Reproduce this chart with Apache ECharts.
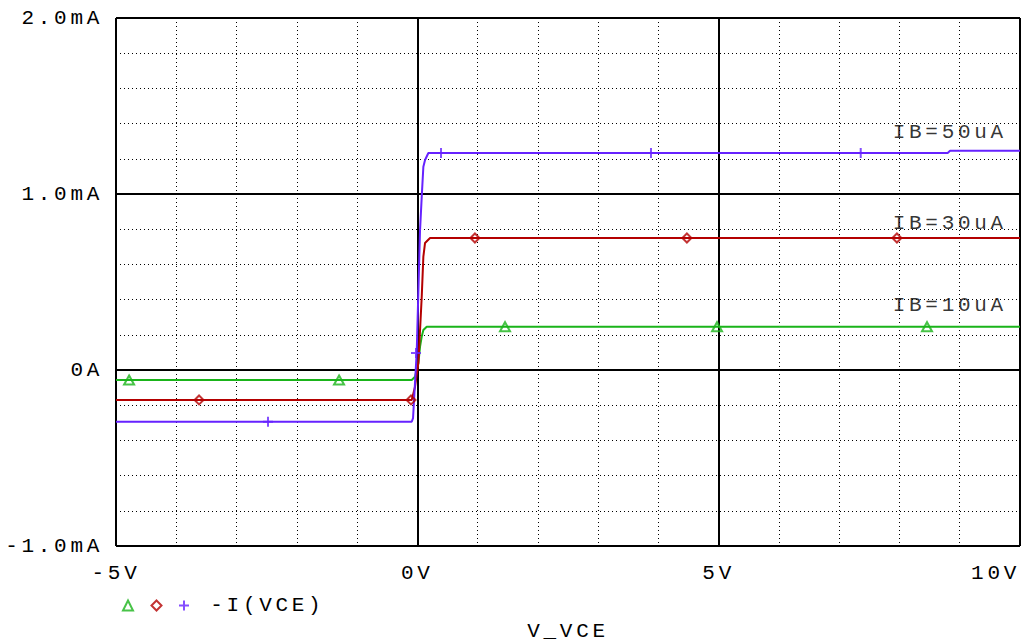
<!DOCTYPE html>
<html><head><meta charset="utf-8">
<script src="https://cdn.jsdelivr.net/npm/echarts@6/dist/echarts.min.js"></script>
<style>
html,body{margin:0;padding:0;background:#fff;}
#chart{width:1021px;height:644px;}
#chart text{letter-spacing:3.7px;}
</style></head><body><div id="chart"></div>
<script>
// Axis ticks and labels
const xTicks = [-5, 0, 5, 10];
const xTickLabels = ['-5V', '0V', '5V', '10V'];
const yTicks = [-1, 0, 1, 2];
const yTickLabels = ['-1.0mA', '0A', '1.0mA', '2.0mA'];
const xTitle = 'V_VCE';
const legendText = '-I(VCE)';

// Curves: V_VCE (V) vs -I(VCE) (mA)
const names = ['IB=10uA', 'IB=30uA', 'IB=50uA'];
const v10 = [-5, -0.093, -0.038, 0.017, 0.045, 0.073, 0.100, 0.156, 10];
const i10 = [-0.057, -0.057, -0.038, 0.038, 0.133, 0.190, 0.227, 0.246, 0.246];
const v30 = [-5, -0.093, -0.038, 0.017, 0.073, 0.100, 0.128, 0.211, 10];
const i30 = [-0.170, -0.170, -0.095, 0.040, 0.416, 0.644, 0.722, 0.750, 0.750];
const v50 = [-5, -0.093, -0.071, -0.010, 0.045, 0.073, 0.100, 0.128, 0.183, 8.80, 8.84, 10];
const i50 = [-0.294, -0.294, -0.273, 0.104, 0.795, 0.985, 1.155, 1.193, 1.233, 1.233, 1.246, 1.246];

// Marker positions
const mv10 = [-4.783, -1.299, 1.455, 4.973, 8.457];
const mi10 = [-0.057, -0.057, 0.246, 0.246, 0.246];
const mv30 = [-3.622, -0.105, 0.956, 4.473, 7.958];
const mi30 = [-0.170, -0.170, 0.750, 0.750, 0.750];
const mv50 = [-2.478, -0.022, 0.393, 3.877, 7.357];
const mi50 = [-0.294, 0.097, 1.233, 1.233, 1.233];

// Curve annotations
const annV = [7.88, 7.88, 7.88];
const annI = [0.364, 0.830, 1.347];
const annText = ['IB=10uA', 'IB=30uA', 'IB=50uA'];

const colors = ['#1ab41a', '#b40000', '#6622ff'];
const FONT = 'Liberation Mono';
const plusPath = 'path://M4,0H6V4H10V6H6V10H4V6H0V4H4Z';

const zip = (a, b) => a.map((v, i) => [v, b[i]]);

const chart = echarts.init(document.getElementById('chart'), null, {renderer: 'svg'});
const hollow = c => ({color: 'rgba(0,0,0,0)', borderColor: c, borderWidth: 2});

chart.setOption({
  animation: false,
  backgroundColor: '#fff',
  textStyle: {fontFamily: FONT, fontSize: 21, color: '#000'},
  grid: {left: 116, top: 18, width: 904, height: 528, containLabel: false, outerBoundsMode: 'none'},
  legend: {
    left: 122, top: 595, padding: 0, itemWidth: 10, itemHeight: 10, itemGap: 16.5,
    selectedMode: false,
    textStyle: {fontFamily: FONT, fontSize: 21, color: '#000'},
    formatter: n => n === names[2] ? '\u00a0' + legendText : '',
    data: [
      {name: names[0], icon: 'triangle', itemStyle: hollow(colors[0])},
      {name: names[1], icon: 'diamond', itemStyle: hollow(colors[1])},
      {name: names[2], icon: plusPath, itemStyle: {color: colors[2], borderWidth: 0}}
    ]
  },
  xAxis: {
    type: 'value', min: -5, max: 10, interval: 5,
    name: xTitle, nameLocation: 'middle', nameGap: 75,
    nameTextStyle: {fontFamily: FONT, fontSize: 21, color: '#000'},
    axisLine: {lineStyle: {color: '#000', width: 2}},
    axisTick: {length: 9, lineStyle: {color: '#000', width: 2}},
    axisLabel: {margin: 17, color: '#000', fontFamily: FONT, fontSize: 21,
      alignMaxLabel: 'right',
      formatter: v => { const k = xTicks.indexOf(v); return k >= 0 ? xTickLabels[k] : ''; }},
    splitLine: {show: true, lineStyle: {color: '#000', width: 2}},
    minorTick: {show: true, splitNumber: 5, length: 0},
    minorSplitLine: {show: true, lineStyle: {color: '#000', width: 1, type: [1, 3]}}
  },
  yAxis: {
    type: 'value', min: -1, max: 2, interval: 1,
    axisLine: {show: true, lineStyle: {color: '#000', width: 2}},
    axisTick: {show: true, length: 11, lineStyle: {color: '#000', width: 2}},
    axisLabel: {margin: 13, color: '#000', fontFamily: FONT, fontSize: 21,
      formatter: v => { const k = yTicks.indexOf(v); return k >= 0 ? yTickLabels[k] : ''; }},
    splitLine: {show: true, lineStyle: {color: '#000', width: 2}},
    minorTick: {show: true, splitNumber: 5, length: 0},
    minorSplitLine: {show: true, lineStyle: {color: '#000', width: 1, type: [1, 3]}}
  },
  series: [
    {type: 'line', name: 'c10', data: zip(v10, i10), showSymbol: false, z: 3,
      lineStyle: {color: colors[0], width: 2}, itemStyle: {color: colors[0]}},
    {type: 'line', name: 'c30', data: zip(v30, i30), showSymbol: false, z: 3,
      lineStyle: {color: colors[1], width: 2}, itemStyle: {color: colors[1]}},
    {type: 'line', name: 'c50', data: zip(v50, i50), showSymbol: false, z: 3,
      lineStyle: {color: colors[2], width: 2}, itemStyle: {color: colors[2]}},
    {type: 'scatter', name: names[0], data: zip(mv10, mi10), symbol: 'triangle', symbolSize: [10, 9], z: 4,
      itemStyle: hollow(colors[0])},
    {type: 'scatter', name: names[1], data: zip(mv30, mi30), symbol: 'diamond', symbolSize: [9, 9], z: 4,
      itemStyle: hollow(colors[1])},
    {type: 'scatter', name: names[2], data: zip(mv50, mi50), symbol: plusPath, symbolSize: 10, z: 4,
      itemStyle: {color: colors[2]}},
    {type: 'scatter', name: 'ann', silent: true, symbolSize: 1, z: 5,
      data: annV.map((v, i) => ({value: [v, annI[i]], label: {show: true, formatter: annText[i]}})),
      itemStyle: {color: 'rgba(0,0,0,0)'},
      label: {show: true, position: 'right', distance: 0, align: 'left', verticalAlign: 'middle',
        fontFamily: FONT, fontSize: 21, color: '#000'}}
  ]
});
</script></body></html>
